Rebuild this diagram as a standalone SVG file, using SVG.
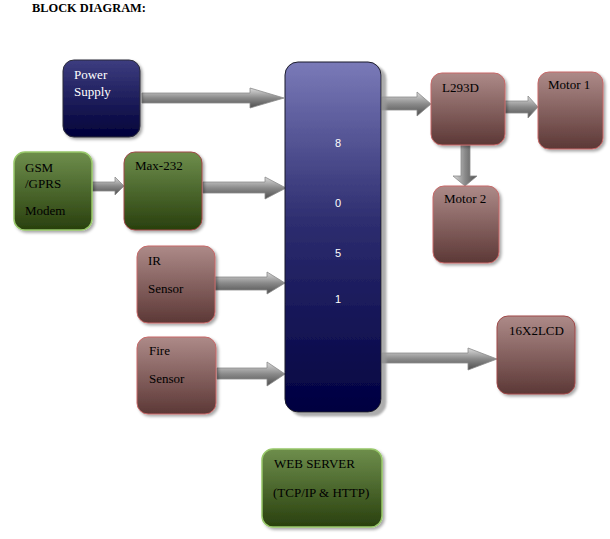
<svg xmlns="http://www.w3.org/2000/svg" width="610" height="539" viewBox="0 0 610 539">
<style>
.t{font-family:"Liberation Serif","Times New Roman",serif;font-size:13px;fill:#000}
.w{fill:#fff}
.d{font-family:"Liberation Sans",Arial,sans-serif;font-size:11px;fill:#fff}
.title{font-family:"Liberation Serif","Times New Roman",serif;font-size:12.4px;font-weight:bold;fill:#000}
.arr{fill:url(#ga);stroke:#8a8a8a;stroke-width:0.8}
.arrv{fill:url(#gv);stroke:#8a8a8a;stroke-width:0.8}
</style>
<defs>
<linearGradient id="gn" x1="0" y1="0" x2="0" y2="1"><stop offset="0" stop-color="#3d3d80"/><stop offset="1" stop-color="#000038"/></linearGradient>
<linearGradient id="gg" x1="0" y1="0" x2="0" y2="1"><stop offset="0" stop-color="#6e8e4c"/><stop offset="1" stop-color="#29400e"/></linearGradient>
<linearGradient id="gr" x1="0" y1="0" x2="0" y2="1"><stop offset="0" stop-color="#ad8a88"/><stop offset="1" stop-color="#5c3836"/></linearGradient>
<linearGradient id="gc" x1="0" y1="0" x2="0" y2="1"><stop offset="0" stop-color="#7a7ab8"/><stop offset="0.45" stop-color="#2e2e70"/><stop offset="1" stop-color="#000040"/></linearGradient>
<linearGradient id="ga" x1="0" y1="0" x2="0" y2="1"><stop offset="0" stop-color="#dcdcdc"/><stop offset="0.5" stop-color="#8a8a8a"/><stop offset="1" stop-color="#4e4e4e"/></linearGradient>
<linearGradient id="gv" x1="0" y1="0" x2="1" y2="0"><stop offset="0" stop-color="#dcdcdc"/><stop offset="0.5" stop-color="#8a8a8a"/><stop offset="1" stop-color="#4e4e4e"/></linearGradient>
<filter id="sh" x="-10%" y="-10%" width="130%" height="130%"><feDropShadow dx="2" dy="2" stdDeviation="1.5" flood-color="#000" flood-opacity="0.35"/></filter>
<filter id="shc" x="-10%" y="-5%" width="130%" height="115%"><feDropShadow dx="5" dy="4" stdDeviation="1" flood-color="#999" flood-opacity="0.8"/></filter>
</defs>
<rect width="610" height="539" fill="#fff"/>
<text class="title" x="32" y="12">BLOCK DIAGRAM:</text>

<g id="connectors">
<polygon class="arr" points="142,93 250,93 250,88 284,98 250,108 250,103 142,103"/>
<polygon class="arr" points="92,182 115,182 115,177 124,186 115,195 115,191 92,191"/>
<polygon class="arr" points="203,182 265,182 265,177 286,188 265,199 265,193 203,193"/>
<polygon class="arr" points="215,277 267,277 267,272 285,283 267,294 267,290 215,290"/>
<polygon class="arr" points="217,368 267,368 267,362 285,374 267,386 267,379 217,379"/>
<polygon class="arr" points="382,97 417,97 417,92 431,104 417,116 417,110 382,110"/>
<polygon class="arr" points="505,101 528,101 528,96 538,107 528,118 528,113 505,113"/>
<polygon class="arrv" points="461,145 470,145 470,176 477,176 465,186 453,176 461,176"/>
<polygon class="arr" points="382,353 468,353 468,348 497,359 468,370 468,363 382,363"/>
</g>

<g id="mcu">
<rect x="285" y="62" width="96" height="350" rx="13" fill="url(#gc)" stroke="#1a1a2a" stroke-width="1" filter="url(#shc)"/>
<text class="d" x="335" y="147">8</text>
<text class="d" x="335" y="207">0</text>
<text class="d" x="335" y="257">5</text>
<text class="d" x="335" y="303">1</text>
</g>

<g id="power">
<rect x="63" y="60" width="77" height="77" rx="11" fill="url(#gn)" stroke="#2a2a3a" stroke-width="1" filter="url(#sh)"/>
<text class="t w" x="74" y="79">Power</text>
<text class="t w" x="74" y="96">Supply</text>
</g>

<g id="gsm">
<rect x="14" y="152" width="78" height="78" rx="11" fill="url(#gg)" stroke="#98c86a" stroke-width="1.5" filter="url(#sh)"/>
<text class="t" x="25" y="172">GSM</text>
<text class="t" x="25" y="188">/GPRS</text>
<text class="t" x="25" y="215">Modem</text>
</g>

<g id="max232">
<rect x="124" y="152" width="78" height="78" rx="11" fill="url(#gg)" stroke="#a04848" stroke-width="1" filter="url(#sh)"/>
<text class="t" x="135" y="170">Max-232</text>
</g>

<g id="ir">
<rect x="137" y="246" width="78" height="77" rx="11" fill="url(#gr)" stroke="#c86868" stroke-width="1" filter="url(#sh)"/>
<text class="t" x="148" y="265">IR</text>
<text class="t" x="148" y="293">Sensor</text>
</g>

<g id="fire">
<rect x="137" y="337" width="79" height="77" rx="11" fill="url(#gr)" stroke="#c86868" stroke-width="1" filter="url(#sh)"/>
<text class="t" x="149" y="355">Fire</text>
<text class="t" x="149" y="383">Sensor</text>
</g>

<g id="l293d">
<rect x="431" y="73" width="74" height="72" rx="11" fill="url(#gr)" stroke="#c86868" stroke-width="1" filter="url(#sh)"/>
<text class="t" x="442" y="92">L293D</text>
</g>

<g id="motor1">
<rect x="538" y="72" width="65" height="77" rx="11" fill="url(#gr)" stroke="#c86868" stroke-width="1" filter="url(#sh)"/>
<text class="t" x="548" y="89">Motor 1</text>
</g>

<g id="motor2">
<rect x="433" y="186" width="66" height="77" rx="11" fill="url(#gr)" stroke="#c86868" stroke-width="1" filter="url(#sh)"/>
<text class="t" x="444" y="203">Motor 2</text>
</g>

<g id="lcd">
<rect x="497" y="316" width="78" height="78" rx="11" fill="url(#gr)" stroke="#a04848" stroke-width="1" filter="url(#sh)"/>
<text class="t" x="509" y="335">16X2LCD</text>
</g>

<g id="webserver">
<rect x="262" y="449" width="120" height="78" rx="11" fill="url(#gg)" stroke="#98c86a" stroke-width="1.5" filter="url(#sh)"/>
<text class="t" x="274" y="468">WEB SERVER</text>
<text class="t" x="273" y="497">(TCP/IP &amp; HTTP)</text>
</g>
</svg>
